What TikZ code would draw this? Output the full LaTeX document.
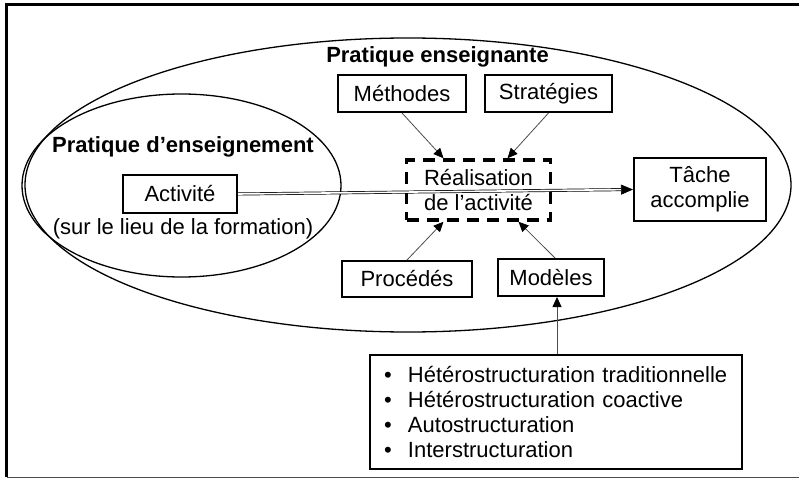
\documentclass[tikz,border=0pt]{standalone}
\usepackage{fontspec}
\setmainfont{Liberation Sans}
\usepackage{tikz}
\usetikzlibrary{shapes, arrows.meta, positioning, calc}

\begin{document}
\begin{tikzpicture}[x=1pt, y=-1pt,
		font=\fontsize{22}{25}\selectfont,
		boite/.style={draw, line width=2pt, align=center, inner sep=0pt},
		titre/.style={font=\fontsize{22}{25}\selectfont\bfseries, anchor=base},
		fleche/.style={draw=black!70, line width=0.8pt, -{Triangle[length=10pt, width=9pt, color=black]}}]
		\useasboundingbox (0,0) rectangle (799,478);

		% cadre et ensembles
		\draw[line width=3pt] (799,4.5) -- (6.5,4.5) -- (6.5,477);
		\draw[line width=0.8pt, black!70] (6.5,477) -- (799,477);
		\draw[line width=1.3pt] (408,185) ellipse [x radius=383, y radius=147];
		\draw[line width=1.3pt] (181.5,185.5) ellipse [x radius=159.5, y radius=91.5];

		\node[titre] (Pratique enseignante) at (437.5,63) {Pratique enseignante};
		\node[titre] (Pratique enseignement) at (183,153) {Pratique d’enseignement};

		\node[boite, minimum width=114pt, minimum height=37pt] (Activite) at (180,194) {Activité};
		\node[anchor=base] (Lieu) at (183,234) {(sur le lieu de la formation)};
		\node[boite, minimum width=128pt, minimum height=37pt] (Methodes) at (402,93.5) {Méthodes};
		\node[boite, minimum width=127pt, minimum height=37pt] (Strategies) at (548.5,93.5) {Stratégies};
		\node[boite, dashed, dash pattern=on 12pt off 8pt, line width=3.5pt, minimum width=144pt, minimum height=60pt] (Realisation) at (478.5,190) {Réalisation\\
			de l’activité};
		\node[boite, minimum width=132pt, minimum height=63pt] (Tache) at (700,189.5) {Tâche\\
			accomplie};
		\node[boite, minimum width=130pt, minimum height=36pt] (Procedes) at (407,279) {Procédés};
		\node[boite, minimum width=106pt, minimum height=37pt] (Modeles) at (551,277.5) {Modèles};
		\node[boite, align=left, text width=344pt, minimum width=372pt, minimum height=114pt] (Liste) at (556,412) {\makebox[24pt][l]{\textbullet}Hétérostructuration traditionnelle\\
			\makebox[24pt][l]{\textbullet}Hétérostructuration coactive\\
			\makebox[24pt][l]{\textbullet}Autostructuration\\
			\makebox[24pt][l]{\textbullet}Interstructuration};

		\draw[fleche] (Methodes.south) to ([xshift=-35pt]Realisation.north);
		\draw[fleche] (Strategies.south) to ([xshift=29pt]Realisation.north);
		\draw[fleche] (Procedes.north) to ([xshift=-35pt]Realisation.south);
		\draw[fleche] ([xshift=4pt]Modeles.north) to ([xshift=40pt]Realisation.south);
		\draw[fleche] ([xshift=6pt]Modeles.south |- Liste.north) to ([xshift=6pt]Modeles.south);
		\draw[double, double distance=1.6pt, line width=0.7pt, -{Triangle[length=12pt, width=10pt]}] (Activite.east) to (Tache.west);
	\end{tikzpicture}
\end{document}
